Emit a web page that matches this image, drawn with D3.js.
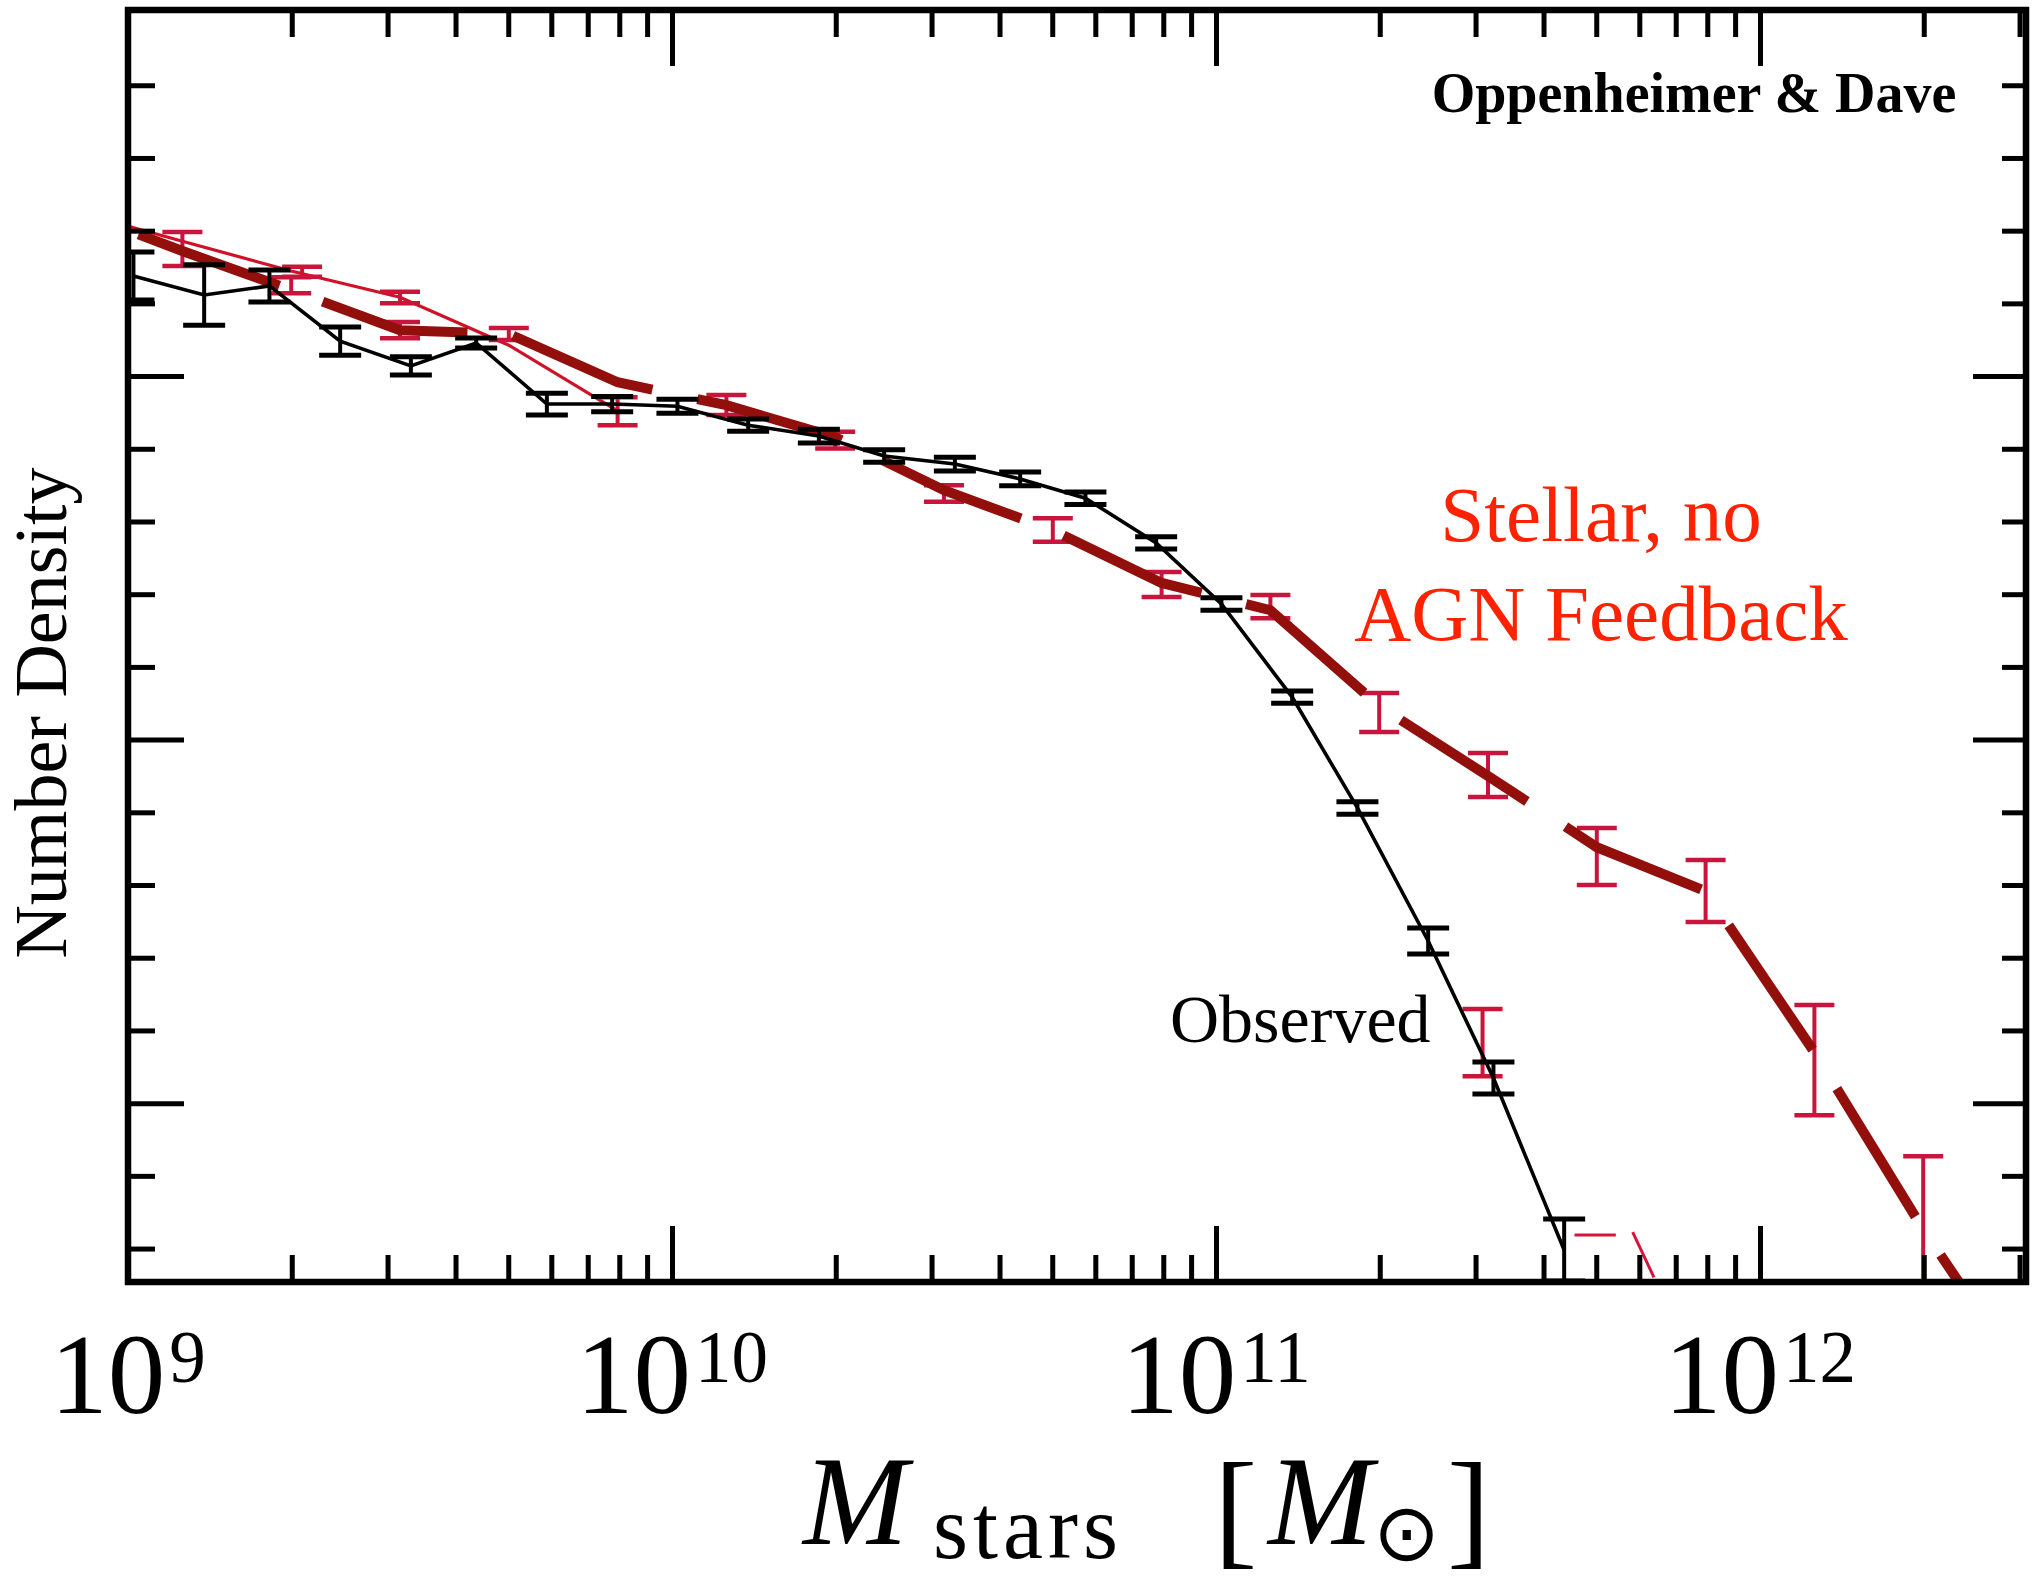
<!DOCTYPE html>
<html><head><meta charset="utf-8">
<script src="https://cdn.jsdelivr.net/npm/d3@7"></script>
<style>html,body{margin:0;padding:0;background:#fff;}svg{display:block}</style>
</head><body>
<svg id="chart" width="2033" height="1580"></svg>
<script>
// ---------------- data (log10 M_stars, log10 number density) ----------------
const obsLogM   = [9.01, 9.14, 9.26, 9.39, 9.52, 9.64, 9.77, 9.89, 10.01, 10.14, 10.27, 10.39, 10.52, 10.64, 10.76, 10.89, 11.01, 11.14, 11.26, 11.39, 11.51, 11.64];
const obsLogPhi = [-2.725, -2.777, -2.752, -2.904, -2.972, -2.909, -3.077, -3.077, -3.083, -3.135, -3.165, -3.220, -3.242, -3.283, -3.336, -3.459, -3.627, -3.883, -4.188, -4.554, -4.931, -5.404];
const obsErr    = [0.066, 0.083, 0.044, 0.039, 0.025, 0.014, 0.030, 0.021, 0.019, 0.017, 0.019, 0.017, 0.019, 0.019, 0.017, 0.017, 0.017, 0.017, 0.017, 0.036, 0.044, 0.085];

// "Stellar, no AGN feedback" model (thick dashed dark-red line)
const simLogM   = [8.9, 9.1, 9.3, 9.5, 9.7, 9.9, 10.1, 10.3, 10.5, 10.7, 10.9, 11.1, 11.3, 11.5, 11.7, 11.9, 12.1, 12.3, 12.5];
const simLogPhi = [-2.543, -2.656, -2.763, -2.874, -2.884, -3.017, -3.080, -3.168, -3.314, -3.424, -3.569, -3.644, -3.908, -4.100, -4.296, -4.417, -4.860, -5.347, -5.790];
const simBarLogM = [9.1, 9.3, 9.5, 9.7, 10.1, 10.3, 10.5, 10.7, 10.9, 11.1, 11.3, 11.5, 11.7, 11.9, 12.1, 12.3];
const simBarHi   = [-2.604, -2.728, -2.851, -2.868, -3.052, -3.153, -3.300, -3.391, -3.539, -3.602, -3.872, -4.037, -4.243, -4.331, -4.730, -5.146];
const simBarLo   = [-2.697, -2.772, -2.896, -2.901, -3.107, -3.199, -3.346, -3.456, -3.608, -3.666, -3.979, -4.158, -4.400, -4.502, -5.033, -5.547];

// faint thin red curve (partly hidden)
const altLogM   = [8.9, 9.1, 9.3, 9.5, 9.7, 9.9];
const altLogPhi = [-2.546, -2.629, -2.711, -2.783, -2.915, -3.096];
const altBarLogM = [9.32, 9.5, 9.9, 11.49];
const altBarHi   = [-2.699, -2.768, -3.058, -4.741];
const altBarLo   = [-2.727, -2.800, -3.135, -4.926];
const fragLogM   = [11.659, 11.735, null, 11.766, 11.805];
const fragLogPhi = [-5.363, -5.363, null, -5.355, -5.479];

// axis ticks
const xMajorExp = [9, 10, 11, 12];
const xMinorMult = [2, 3, 4, 5, 6, 7, 8, 9];
const yMinorTicks = [-5.4, -5.2, -4.8, -4.6, -4.4, -4.2, -3.8, -3.6, -3.4, -3.2, -2.8, -2.6, -2.4, -2.2];
const yMajorTicks = [-5, -4, -3];

// ---------------- layout ----------------
const L = 128, R = 2026, T = 10, B = 1282;
const svg = d3.select("#chart");
const x = d3.scaleLog().domain([1e9, Math.pow(10, 9 + (R - L) / 544)]).range([L, R]);
const y = d3.scaleLinear().domain([-5.492, -1.993]).range([B, T]);
const X = lm => x(Math.pow(10, lm));

svg.append("defs").append("clipPath").attr("id", "clip")
  .append("rect").attr("x", L).attr("y", T).attr("width", R - L).attr("height", B - T);
const g = svg.append("g").attr("clip-path", "url(#clip)");

// ---- thin red curve
const alt = altLogM.map((m, i) => [m, altLogPhi[i]]);
g.append("path").datum(alt)
  .attr("d", d3.line().x(d => X(d[0])).y(d => y(d[1])))
  .attr("fill", "none").attr("stroke", "#cf1228").attr("stroke-width", 3.2);
const frag = fragLogM.map((m, i) => [m, fragLogPhi[i]]);
g.append("path").datum(frag)
  .attr("d", d3.line().defined(d => d[0] !== null).x(d => X(d[0])).y(d => y(d[1])))
  .attr("fill", "none").attr("stroke", "#d8143c").attr("stroke-width", 3);

function bars(sel, ms, lo, hi, color, w, capW, capStroke) {
  ms.forEach((m, i) => {
    const cx = X(m), y1 = y(lo[i]), y2 = y(hi[i]);
    sel.append("line").attr("x1", cx).attr("x2", cx).attr("y1", y1).attr("y2", y2)
      .attr("stroke", color).attr("stroke-width", w);
    [y1, y2].forEach(yy => sel.append("line").attr("x1", cx - capW / 2).attr("x2", cx + capW / 2)
      .attr("y1", yy).attr("y2", yy).attr("stroke", color).attr("stroke-width", capStroke));
  });
}
bars(g, altBarLogM, altBarLo, altBarHi, "#cc1438", 4, 40, 4.5);

// ---- thick dashed model line
const sim = simLogM.map((m, i) => [m, simLogPhi[i]]);
const simPx = sim.map(d => [X(d[0]), y(d[1])]);
let s = 0;
const k = simLogM.indexOf(10.7);
for (let i = 1; i <= k; i++) s += Math.hypot(simPx[i][0] - simPx[i - 1][0], simPx[i][1] - simPx[i - 1][1]);
const period = 150 + 46, anchor = s + 12;
const off = ((period - (anchor % period)) % period);
bars(g, simBarLogM, simBarLo, simBarHi, "#c8153d", 4, 40, 4.5);
g.append("path").datum(sim)
  .attr("d", d3.line().x(d => X(d[0])).y(d => y(d[1])))
  .attr("fill", "none").attr("stroke", "#930f0b").attr("stroke-width", 10)
  .attr("stroke-dasharray", "150 46").attr("stroke-dashoffset", off);

// ---- observed
const obs = obsLogM.map((m, i) => [m, obsLogPhi[i]]);
g.append("path").datum(obs)
  .attr("d", d3.line().x(d => X(d[0])).y(d => y(d[1])))
  .attr("fill", "none").attr("stroke", "#000").attr("stroke-width", 3.6);
bars(g, obsLogM, obsLogPhi.map((v, i) => v - obsErr[i]), obsLogPhi.map((v, i) => v + obsErr[i]), "#000", 4, 42, 5);

// ---------------- axes / frame ----------------
const xMinor = [], xMajor = xMajorExp.map(e => Math.pow(10, e));
xMajorExp.forEach(e => xMinorMult.forEach(mu => { const v = mu * Math.pow(10, e); if (v <= x.domain()[1]) xMinor.push(v); }));
function styleAxis(a) {
  a.select(".domain").remove();
  a.selectAll(".tick text").remove();
  a.selectAll(".tick line").attr("stroke", "#000").attr("stroke-width", 5);
}
const minorLen = 27, majorLen = 56;
svg.append("g").attr("transform", `translate(0,${B})`).call(d3.axisTop(x).tickValues(xMinor).tickSize(minorLen)).call(styleAxis);
svg.append("g").attr("transform", `translate(0,${B})`).call(d3.axisTop(x).tickValues(xMajor).tickSize(majorLen)).call(styleAxis);
svg.append("g").attr("transform", `translate(0,${T})`).call(d3.axisBottom(x).tickValues(xMinor).tickSize(minorLen)).call(styleAxis);
svg.append("g").attr("transform", `translate(0,${T})`).call(d3.axisBottom(x).tickValues(xMajor).tickSize(majorLen)).call(styleAxis);
svg.append("g").attr("transform", `translate(${L},0)`).call(d3.axisRight(y).tickValues(yMinorTicks).tickSize(minorLen)).call(styleAxis);
svg.append("g").attr("transform", `translate(${L},0)`).call(d3.axisRight(y).tickValues(yMajorTicks).tickSize(majorLen)).call(styleAxis);
svg.append("g").attr("transform", `translate(${R},0)`).call(d3.axisLeft(y).tickValues(yMinorTicks).tickSize(minorLen - 3)).call(styleAxis);
svg.append("g").attr("transform", `translate(${R},0)`).call(d3.axisLeft(y).tickValues(yMajorTicks).tickSize(majorLen - 3)).call(styleAxis);

svg.append("rect").attr("x", L).attr("y", T).attr("width", R - L).attr("height", B - T)
  .attr("fill", "none").attr("stroke", "#000").attr("stroke-width", 6.5);

// x tick labels 10^n
const serif = "Liberation Serif";
xMajorExp.forEach(e => {
  const t = svg.append("text").attr("x", x(Math.pow(10, e))).attr("y", 1413)
    .attr("text-anchor", "middle").attr("font-family", serif).attr("fill", "#000");
  t.append("tspan").attr("font-size", 115).text("10");
  t.append("tspan").attr("font-size", 73).attr("dy", -31).attr("dx", 4).text(e);
});

// x axis title  M_stars [M_sun]  (one text element)
const xt = svg.append("text").attr("font-family", serif).attr("fill", "#000");
xt.append("tspan").attr("x", 803).attr("y", 1544).attr("font-style", "italic").attr("font-size", 126).text("M");
xt.append("tspan").attr("x", 933).attr("y", 1558).attr("font-size", 90).attr("letter-spacing", 5).text("stars");
xt.append("tspan").attr("x", 1214).attr("y", 1552).attr("font-size", 130).attr("letter-spacing", 0).text("[");
xt.append("tspan").attr("x", 1268).attr("y", 1544).attr("font-style", "italic").attr("font-size", 126).text("M");
xt.append("tspan").attr("x", 1373).attr("y", 1560).attr("font-family", "DejaVu Sans").attr("font-size", 80).text("\u2299");
xt.append("tspan").attr("x", 1447).attr("y", 1552).attr("font-size", 130).text("]");

// y axis title
svg.append("text").attr("transform", "translate(66,713) rotate(-90)").attr("text-anchor", "middle")
  .attr("font-family", serif).attr("font-size", 74).text("Number Density");

// annotations
svg.append("text").attr("x", 1694).attr("y", 112).attr("text-anchor", "middle").attr("font-family", serif)
  .attr("font-weight", "bold").attr("font-size", 56).text("Oppenheimer & Dave");
svg.append("text").attr("x", 1601).attr("y", 541).attr("text-anchor", "middle").attr("font-family", serif)
  .attr("font-size", 79).attr("fill", "#ff2200").text("Stellar, no");
svg.append("text").attr("x", 1601).attr("y", 640).attr("text-anchor", "middle").attr("font-family", serif)
  .attr("font-size", 79).attr("fill", "#ff2200").text("AGN Feedback");
svg.append("text").attr("x", 1170).attr("y", 1042).attr("font-family", serif)
  .attr("font-size", 68).attr("fill", "#000").text("Observed");
</script>
</body></html>
